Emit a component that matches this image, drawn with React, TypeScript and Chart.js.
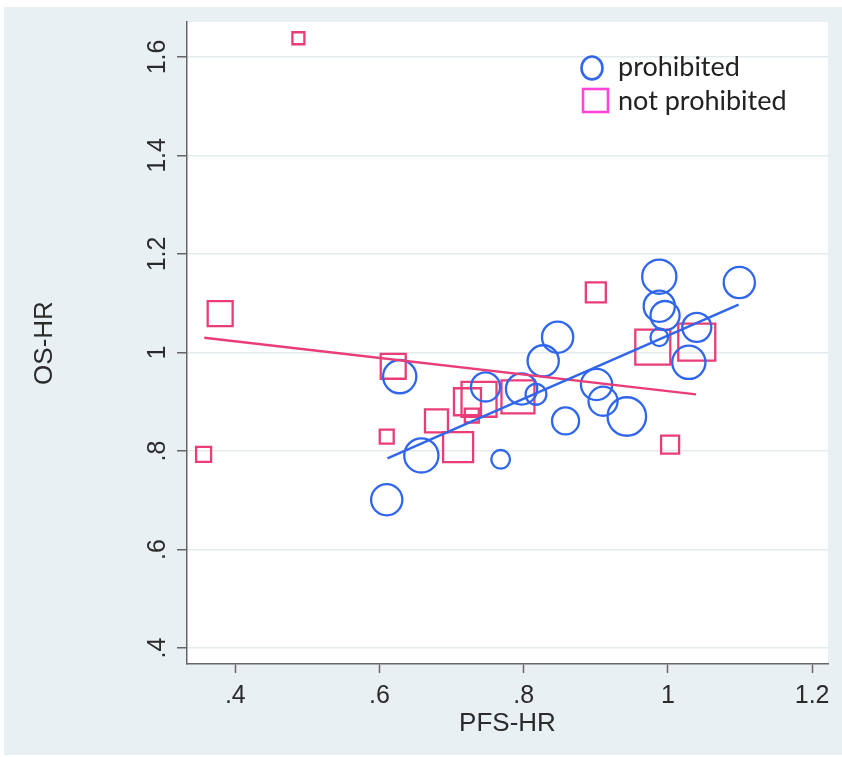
import React, { useEffect, useRef } from "react";
import { Chart, registerables } from "chart.js";

Chart.register(...registerables);

// ---- data ----
const prohibitedPFS = [0.61, 0.628, 0.658, 0.747, 0.768, 0.797, 0.817, 0.827, 0.847, 0.858, 0.901, 0.91, 0.943, 0.988, 0.988, 0.996, 0.988, 1.029, 1.04, 1.099];
const prohibitedOS = [0.701, 0.951, 0.791, 0.93, 0.783, 0.926, 0.915, 0.983, 1.031, 0.861, 0.935, 0.901, 0.87, 1.154, 1.094, 1.075, 1.031, 0.98, 1.051, 1.142];
const prohibitedWeight = [30, 34, 36, 26, 10.8, 30, 13.3, 30, 30, 22.5, 30, 26, 45.6, 36, 30, 26, 9.6, 34, 26, 30];

const notProhibitedPFS = [0.356, 0.379, 0.4875, 0.61, 0.619, 0.679, 0.709, 0.722, 0.728, 0.738, 0.792, 0.9, 0.979, 1.003, 1.04];
const notProhibitedOS = [0.793, 1.079, 1.638, 0.829, 0.972, 0.861, 0.808, 0.9, 0.872, 0.905, 0.91, 1.122, 1.011, 0.813, 1.021];
const notProhibitedWeight = [7.5, 20.8, 4.8, 6.5, 20.8, 17.6, 30, 24.3, 6.5, 40.8, 36.3, 13.3, 40.8, 10.8, 45.6];

const fitProhibitedPFS = [0.611, 1.098];
const fitProhibitedOS = [0.785, 1.097];
const fitNotProhibitedPFS = [0.357, 1.039];
const fitNotProhibitedOS = [1.03, 0.915];

const xTicks = [0.4, 0.6, 0.8, 1.0, 1.2];
const xTickLabels = [".4", ".6", ".8", "1", "1.2"];
const yTicks = [0.4, 0.6, 0.8, 1.0, 1.2, 1.4, 1.6];
const yTickLabels = [".4", ".6", ".8", "1", "1.2", "1.4", "1.6"];
const xTitle = "PFS-HR";
const yTitle = "OS-HR";
const legendLabels = ["prohibited", "not prohibited"];

// ---- styles ----
const BLUE = "#2f66ec";
const PINK = "#ea3d78";
const LEGEND_PINK = "#ff45d8";
const AXIS = "#666666";
const GRID = "#e3ebee";
const OUTER_BG = "#e8f0f3";
const TEXT = "#2b2b2b";
const AXIS_FONT = "'Liberation Sans', Arial, sans-serif";

const circleRadius = (w: number) => 2.85 * Math.sqrt(w);
const squareRadius = (w: number) => 3.873 * Math.sqrt(w);

const bgPlugin = {
  id: "bgPlugin",
  beforeDraw(chart: any) {
    const { ctx, chartArea } = chart;
    ctx.save();
    ctx.fillStyle = "#ffffff";
    ctx.fillRect(0, 0, chart.width, chart.height);
    ctx.fillStyle = OUTER_BG;
    ctx.fillRect(4, 7, chart.width - 4, chart.height - 9);
    ctx.fillStyle = "#ffffff";
    ctx.fillRect(chartArea.left, chartArea.top, chartArea.right - chartArea.left, chartArea.bottom - chartArea.top);
    ctx.restore();
  },
};

const yLabelPlugin = {
  id: "yLabelPlugin",
  afterDraw(chart: any) {
    const { ctx } = chart;
    const ys = chart.scales.y;
    ctx.save();
    ctx.fillStyle = TEXT;
    ctx.font = `25px ${AXIS_FONT}`;
    ctx.textAlign = "center";
    ctx.textBaseline = "middle";
    yTicks.forEach((v, i) => {
      const py = ys.getPixelForValue(v);
      ctx.save();
      ctx.translate(ys.right - 29, py);
      ctx.rotate(-Math.PI / 2);
      ctx.fillText(yTickLabels[i], 0, 0);
      ctx.restore();
    });
    ctx.restore();
  },
};

const legendPlugin = {
  id: "legendPlugin",
  afterDraw(chart: any) {
    const { ctx, chartArea } = chart;
    const x0 = chartArea.right - 236;
    const y0 = chartArea.top + 46;
    const gap = 33;
    ctx.save();
    ctx.strokeStyle = BLUE;
    ctx.lineWidth = 2.6;
    ctx.beginPath();
    ctx.ellipse(x0, y0, 10.5, 11.5, 0, 0, Math.PI * 2);
    ctx.stroke();
    ctx.strokeStyle = LEGEND_PINK;
    ctx.strokeRect(x0 - 9, y0 + gap - 12, 25, 23);
    ctx.fillStyle = "#222222";
    ctx.font = "27px Lato, 'Open Sans', sans-serif";
    ctx.textAlign = "left";
    ctx.textBaseline = "middle";
    ctx.fillText(legendLabels[0], x0 + 26, y0 - 1);
    ctx.fillText(legendLabels[1], x0 + 26, y0 + gap);
    ctx.restore();
  },
};

export default function App() {
  const ref = useRef<HTMLCanvasElement | null>(null);

  useEffect(() => {
    document.body.style.margin = "0";
    const canvas = ref.current;
    if (!canvas) return;

    const chart = new Chart(canvas, {
      type: "scatter",
      data: {
        datasets: [
          {
            label: "fit prohibited",
            data: fitProhibitedPFS.map((x, i) => ({ x, y: fitProhibitedOS[i] })),
            showLine: true,
            borderColor: BLUE,
            borderWidth: 2.4,
            pointRadius: 0,
            order: 0,
          } as any,
          {
            label: "fit not prohibited",
            data: fitNotProhibitedPFS.map((x, i) => ({ x, y: fitNotProhibitedOS[i] })),
            showLine: true,
            borderColor: PINK,
            borderWidth: 2.4,
            pointRadius: 0,
            order: 1,
          } as any,
          {
            label: legendLabels[0],
            data: prohibitedPFS.map((x, i) => ({ x, y: prohibitedOS[i] })),
            pointStyle: "circle",
            pointRadius: prohibitedWeight.map(circleRadius),
            backgroundColor: "rgba(0,0,0,0)",
            borderColor: BLUE,
            pointBorderWidth: 2.3,
            order: 2,
          } as any,
          {
            label: legendLabels[1],
            data: notProhibitedPFS.map((x, i) => ({ x, y: notProhibitedOS[i] })),
            pointStyle: "rect",
            pointRadius: notProhibitedWeight.map(squareRadius),
            backgroundColor: "rgba(0,0,0,0)",
            borderColor: PINK,
            pointBorderWidth: 2.3,
            order: 3,
          } as any,
        ],
      },
      options: {
        animation: false,
        responsive: false,
        maintainAspectRatio: false,
        layout: { autoPadding: false, padding: { left: 0, right: 14, top: 22, bottom: 0 } },
        plugins: {
          legend: { display: false },
          tooltip: { enabled: false },
        },
        scales: {
          x: {
            type: "linear",
            min: 0.333,
            max: 1.222,
            afterBuildTicks: (s: any) => {
              s.ticks = xTicks.map((v) => ({ value: v }));
            },
            afterFit: (s: any) => {
              s.height = 93;
              s.paddingLeft = 0;
              s.paddingRight = 0;
            },
            ticks: {
              callback: (v: any) => {
                const i = xTicks.findIndex((t) => Math.abs(t - Number(v)) < 1e-6);
                return i >= 0 ? xTickLabels[i] : "";
              },
              font: { family: AXIS_FONT, size: 25 },
              color: TEXT,
              padding: 8,
              maxRotation: 0,
              autoSkip: false,
            },
            grid: {
              drawOnChartArea: false,
              drawTicks: true,
              tickLength: 9,
              tickColor: AXIS,
              tickWidth: 1.5,
            },
            border: { display: true, color: AXIS, width: 1.5 },
            title: {
              display: true,
              text: xTitle,
              font: { family: AXIS_FONT, size: 26 },
              color: TEXT,
              padding: { top: 0, bottom: 18 },
            },
          },
          y: {
            type: "linear",
            min: 0.3675,
            max: 1.671,
            afterBuildTicks: (s: any) => {
              s.ticks = yTicks.map((v) => ({ value: v }));
            },
            afterFit: (s: any) => {
              s.width = 187;
              s.paddingTop = 0;
              s.paddingBottom = 0;
            },
            ticks: { display: false },
            grid: {
              color: GRID,
              lineWidth: 1.5,
              drawTicks: true,
              tickLength: 10,
              tickColor: AXIS,
              tickWidth: 1.5,
            },
            border: { display: true, color: AXIS, width: 1.5 },
            title: {
              display: true,
              text: yTitle,
              font: { family: AXIS_FONT, size: 26 },
              color: TEXT,
              padding: { top: 29, bottom: 0 },
            },
          },
        },
      } as any,
      plugins: [bgPlugin, yLabelPlugin, legendPlugin],
    });

    return () => chart.destroy();
  }, []);

  return (
    <div style={{ width: 842, height: 757 }}>
      <canvas ref={ref} width={842} height={757} style={{ width: 842, height: 757, display: "block" }} />
    </div>
  );
}
